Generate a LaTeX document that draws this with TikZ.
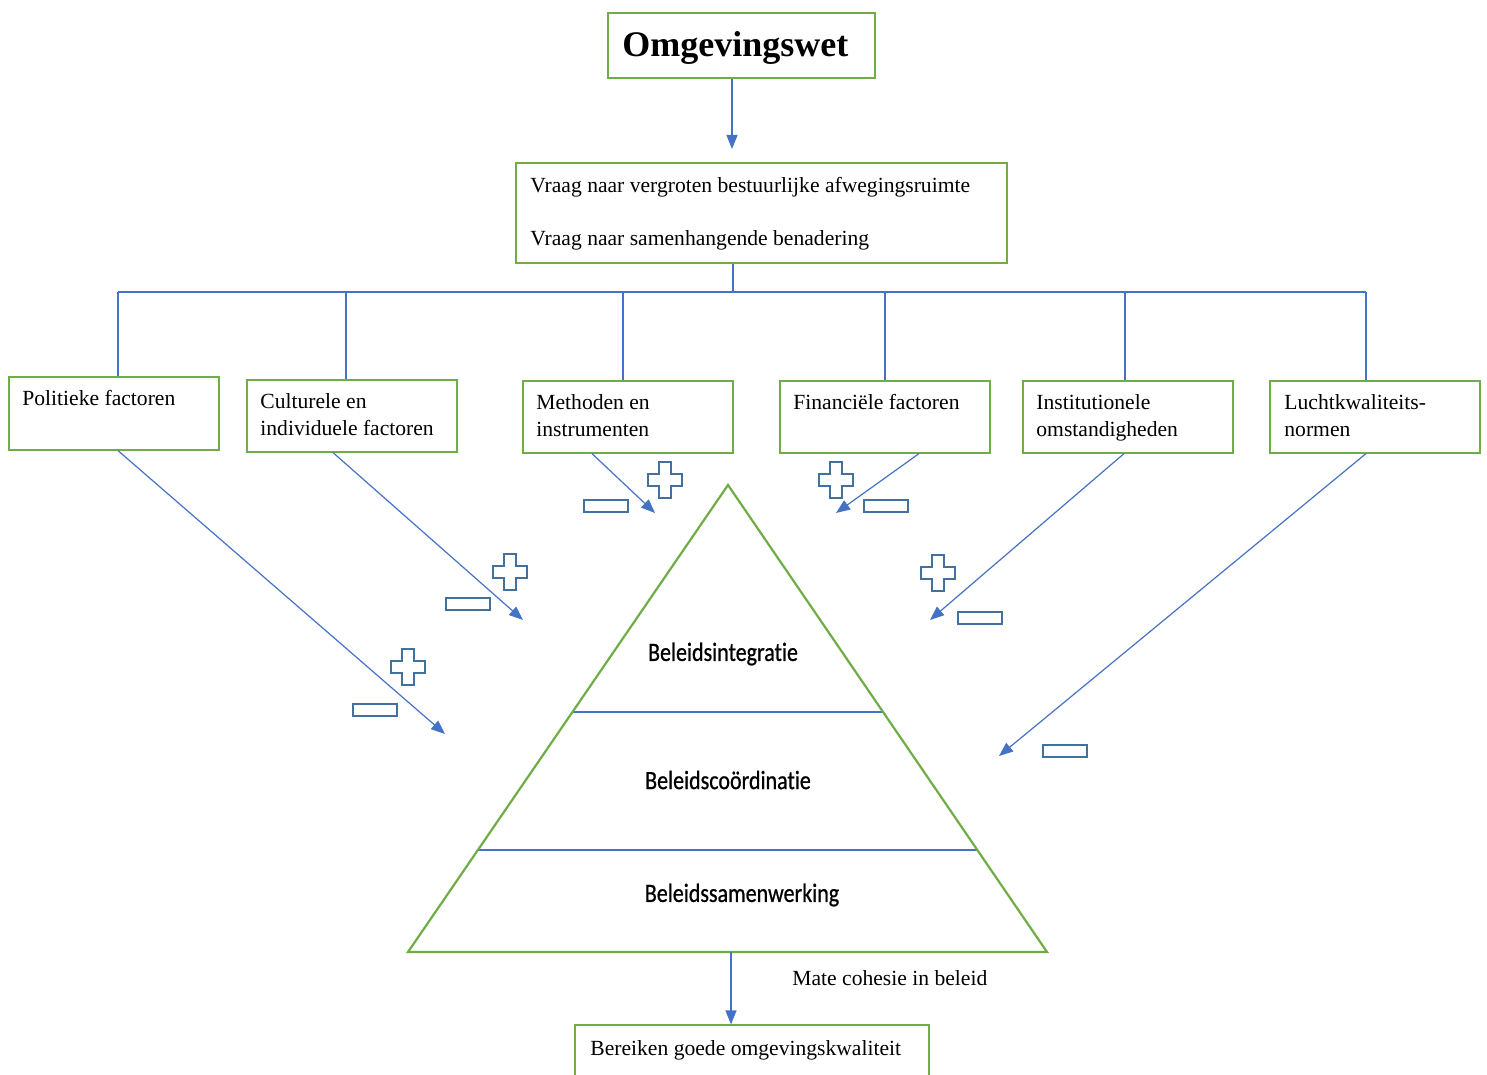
\documentclass[tikz,border=0pt]{standalone}
\usepackage{fontspec}
\setmainfont{Liberation Serif}
\newfontfamily\calib[Ligatures={NoCommon},FakeBold=0.8]{Carlito}
\usetikzlibrary{arrows.meta,fit,calc}
\definecolor{gr}{HTML}{70AD47}
\definecolor{bl}{HTML}{4472C4}
\definecolor{symc}{HTML}{41719C}
\tikzset{
 gbox/.style={draw=gr,line width=0.6pt,inner sep=0pt},
 txt/.style={font=\fontsize{10.8}{13}\selectfont,inner sep=0pt,anchor=base west},
 pyr/.style={font=\calib\fontsize{11}{13}\selectfont,inner sep=0pt},
 bline/.style={draw=bl,line width=0.6pt},
 arr/.style={bline,-{Triangle[length=7pt,width=5.5pt]}},
 symb/.style={draw=symc,line width=0.8pt,fill=white},
 plussign/.pic={\path[symb] (-6,-18) -- (6,-18) -- (6,-6) -- (17,-6) -- (17,6) -- (6,6) -- (6,18) -- (-6,18) -- (-6,6) -- (-17,6) -- (-17,-6) -- (-6,-6) -- cycle;},
 minussign/.pic={\path[symb] (-22,-6) rectangle (22,6);}
}
\newcommand{\tallt}[1]{\scalebox{1}[1.2]{#1}}
\begin{document}
\begin{tikzpicture}[x=0.5pt,y=-0.5pt]
\clip (0,0) rectangle (1487,1075);
\fill[white] (0,0) rectangle (1487,1075);

% top boxes
\node[gbox,fit={(608,13)(875,78)}] (om) {};
\node[inner sep=0pt,anchor=base west,font=\bfseries\fontsize{18}{20}\selectfont] (omt) at (622,57) {Omgevingswet};
\node[gbox,fit={(516,163)(1007,263)}] (vr) {};
\node[txt] (vr1) at (530,193) {Vraag naar vergroten bestuurlijke afwegingsruimte};
\node[txt] (vr2) at (530,246) {Vraag naar samenhangende benadering};

\coordinate (a0) at (732,149);
\draw[arr] (om.south -| a0) -- (a0);

% factor boxes
\node[gbox,fit={(9,377)(219,450)}] (b1) {};
\node[txt] (b1t) at (22,405) {Politieke factoren};
\node[gbox,fit={(247,380)(457,452)}] (b2) {};
\node[txt] (b2t) at (260,408) {Culturele en};
\node[txt] (b2u) at (260,435) {individuele factoren};
\node[gbox,fit={(523,381)(733,453)}] (b3) {};
\node[txt] (b3t) at (536,409) {Methoden en};
\node[txt] (b3u) at (536,436) {instrumenten};
\node[gbox,fit={(780,381)(990,453)}] (b4) {};
\node[txt] (b4t) at (793,409) {Financiële factoren};
\node[gbox,fit={(1023,381)(1233,453)}] (b5) {};
\node[txt] (b5t) at (1036,409) {Institutionele};
\node[txt] (b5u) at (1036,436) {omstandigheden};
\node[gbox,fit={(1270,381)(1480,453)}] (b6) {};
\node[txt] (b6t) at (1284,409) {Luchtkwaliteits-};
\node[txt] (b6u) at (1284,436) {normen};

% bus
\coordinate (hub) at (733,292);
\coordinate (j1) at (118,292);
\coordinate (j2) at (346,292);
\coordinate (j3) at (623,292);
\coordinate (j4) at (885,292);
\coordinate (j5) at (1125,292);
\coordinate (j6) at (1366,292);
\draw[bline] (vr.south -| hub) -- (hub);
\draw[bline] (j1) -- (j6);
\draw[bline] (j1) -- (j1 |- b1.north);
\draw[bline] (j2) -- (j2 |- b2.north);
\draw[bline] (j3) -- (j3 |- b3.north);
\draw[bline] (j4) -- (j4 |- b4.north);
\draw[bline] (j5) -- (j5 |- b5.north);
\draw[bline] (j6) -- (j6 |- b6.north);

% diagonal arrows
\coordinate (s1) at (118,0);   \coordinate (e1) at (445,734);
\coordinate (s2) at (333,0);   \coordinate (e2) at (523,620);
\coordinate (s3) at (592,0);   \coordinate (e3) at (655,513);
\coordinate (s4) at (919,0);   \coordinate (e4) at (836,513);
\coordinate (s5) at (1124,0);  \coordinate (e5) at (930,620);
\coordinate (s6) at (1366,0);  \coordinate (e6) at (999,756);
\draw[arr] (s1 |- b1.south) -- (e1);
\draw[arr] (s2 |- b2.south) -- (e2);
\draw[arr] (s3 |- b3.south) -- (e3);
\draw[arr] (s4 |- b4.south) -- (e4);
\draw[arr] (s5 |- b5.south) -- (e5);
\draw[arr] (s6 |- b6.south) -- (e6);

% plus and minus signs
\pic at (408,667) {plussign};
\pic at (510,572) {plussign};
\pic at (665,480) {plussign};
\pic at (836,480) {plussign};
\pic at (938,573) {plussign};
\pic at (375,710) {minussign};
\pic at (468,604) {minussign};
\pic at (606,506) {minussign};
\pic at (886,506) {minussign};
\pic at (980,618) {minussign};
\pic at (1065,751) {minussign};

% pyramid
\coordinate (apex) at (728,485);
\coordinate (pl) at (408,952);
\coordinate (pr) at (1047,952);
\draw[bline] ($(apex)!0.486!(pl)$) -- ($(apex)!0.486!(pr)$);
\draw[bline] ($(apex)!0.7816!(pl)$) -- ($(apex)!0.7816!(pr)$);
\draw[draw=gr,line width=1.1pt,line join=miter] (apex) -- (pl) -- (pr) -- cycle;
\node[pyr] (p1) at (723,654) {\tallt{Beleidsintegratie}};
\node[pyr] (p2) at (728,780) {\tallt{Beleidscoördinatie}};
\node[pyr] (p3) at (742,895) {\tallt{Beleidssamenwerking}};

% bottom
\node[gbox,fit={(575,1025)(929,1090)}] (bot) {};
\node[txt] (bott) at (590,1055) {Bereiken goede omgevingskwaliteit};
\coordinate (pb) at (731,952);
\draw[arr] (pb) -- (pb |- bot.north);
\node[txt] (mate) at (792,985) {Mate cohesie in beleid};
\end{tikzpicture}
\end{document}
